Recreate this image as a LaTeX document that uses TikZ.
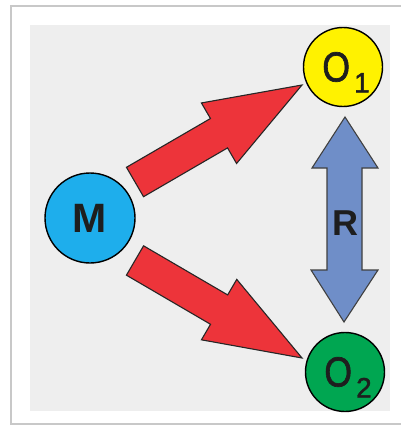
\documentclass[tikz,border=0pt]{standalone}
\usepackage{fontspec}
\setmainfont{Liberation Sans}
\newfontfamily\olabfont[FakeBold=1.6]{Liberation Sans}
\usetikzlibrary{calc}
\definecolor{bggray}{RGB}{238,238,238}
\definecolor{framegray}{RGB}{200,200,200}
\definecolor{arrred}{RGB}{237,52,58}
\definecolor{arrblue}{RGB}{111,142,200}
\definecolor{mcyan}{RGB}{30,174,236}
\definecolor{oyellow}{RGB}{255,242,0}
\definecolor{ogreen}{RGB}{0,166,81}
\definecolor{txt}{RGB}{30,30,30}
\tikzset{
  ball/.style={circle, draw=black, line width=1.4pt, inner sep=0pt, text=txt},
  blockarr/.style={fill=arrred, draw=black!85, line width=1.1pt, line join=miter},
  dblarr/.style={fill=arrblue, draw=black!75, line width=1.1pt, line join=miter},
  bigtxt/.style={font=\fontsize{41}{41}\selectfont\bfseries},
}
\newcommand{\Olab}[1]{\kern6pt\olabfont\scalebox{0.85}[1]{\fontsize{42}{42}\selectfont O}\kern4pt\smash{\raisebox{-11pt}{\fontsize{28}{28}\selectfont #1}}}
\newcommand{\redarrow}[2]{%
  \coordinate (hb) at ($(#2)!96pt!(#1)$);
  \draw[blockarr]
    ($(#1)!17pt!90:(#2)$) -- ($(hb)!17pt!-90:(#1)$) -- ($(hb)!35pt!-90:(#1)$) --
    (#2) -- ($(hb)!35pt!90:(#1)$) -- ($(hb)!17pt!90:(#1)$) --
    ($(#1)!17pt!-90:(#2)$) -- cycle;}
\begin{document}
\begin{tikzpicture}[x=1pt,y=-1pt]
\useasboundingbox (0,0) rectangle (400,428);
% frame
\fill[white] (0,0) rectangle (400,428);
\draw[framegray, line width=1.3pt, fill=white] (11,6) rectangle (403,424);
\fill[bggray] (30,25) rectangle (390,411);
% nodes
\node[ball, fill=mcyan, minimum size=90pt, bigtxt] (M) at (90,218) {\raisebox{-2pt}{M}};
\node[ball, fill=oyellow, minimum size=79pt] (O1) at (343,67) {\raisebox{-2pt}{\Olab{1}}};
\node[ball, fill=ogreen, minimum size=79pt] (O2) at (345,372) {\raisebox{-1pt}{\Olab{2}}};
% red block arrows
\coordinate (t1) at (135,182);
\coordinate (h1) at (302,85);
\coordinate (t2) at (135,260.5);
\coordinate (h2) at (302,358);
\redarrow{t1}{h1}
\redarrow{t2}{h2}
% blue double arrow
\draw[dblarr] (345,117) -- (378,168) -- (362,168) -- (362,270) -- (378,270) --
  (344,322) -- (311,270) -- (327,270) -- (327,168) -- (312,168) -- cycle;
\node[font=\fontsize{36}{36}\selectfont\bfseries, text=txt, inner sep=0pt] (R) at (345,223) {R};
\end{tikzpicture}
\end{document}
